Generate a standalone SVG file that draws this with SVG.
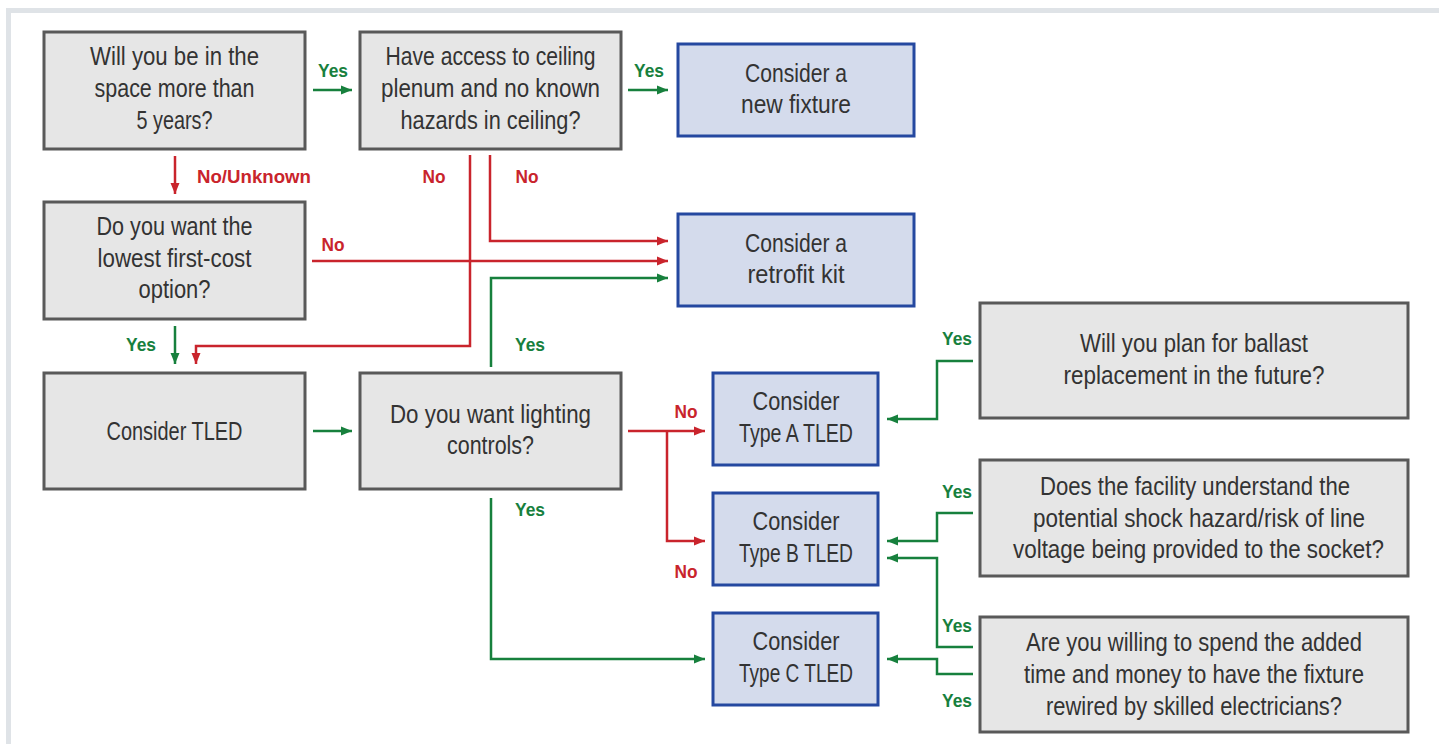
<svg xmlns="http://www.w3.org/2000/svg" width="1439" height="744" viewBox="0 0 1439 744">
<style>
.q{fill:#e6e6e6;stroke:#595959;stroke-width:3}
.a{fill:#d4dbec;stroke:#2548a0;stroke-width:3}
.t{font-family:"Liberation Sans",Arial,sans-serif;font-size:25px;fill:#333;text-anchor:middle}
.l{font-family:"Liberation Sans",Arial,sans-serif;font-size:19px;font-weight:bold;text-anchor:middle}
.g{fill:#17803d}
.r{fill:#c9242c}
.cg{fill:none;stroke:#17803d;stroke-width:2.5}
.cr{fill:none;stroke:#c9242c;stroke-width:2.5}
</style>
<defs>
<marker id="ag" markerUnits="userSpaceOnUse" markerWidth="12" markerHeight="10" refX="11" refY="5" orient="auto"><path d="M0,0.5 L11,5 L0,9.5 z" fill="#17803d"/></marker>
<marker id="ar" markerUnits="userSpaceOnUse" markerWidth="12" markerHeight="10" refX="11" refY="5" orient="auto"><path d="M0,0.5 L11,5 L0,9.5 z" fill="#c9242c"/></marker>
</defs>
<rect width="1439" height="744" fill="#fff"/>
<path d="M8.5,744 V10.5 H1439" fill="none" stroke="#dfe3e7" stroke-width="5"/>

<g id="connectors">
<path class="cg" d="M313,90 H352" marker-end="url(#ag)"/>
<path class="cg" d="M628,90 H668" marker-end="url(#ag)"/>
<path class="cg" d="M175,326 V364" marker-end="url(#ag)"/>
<path class="cg" d="M313,431 H352" marker-end="url(#ag)"/>
<path class="cg" d="M491,367 V278 H668" marker-end="url(#ag)"/>
<path class="cg" d="M491,498 V659 H705" marker-end="url(#ag)"/>
<path class="cg" d="M973,361 H937 V419 H887" marker-end="url(#ag)"/>
<path class="cg" d="M973,513 H937 V541 H887" marker-end="url(#ag)"/>
<path class="cg" d="M973,647 H937 V558 H887" marker-end="url(#ag)"/>
<path class="cg" d="M973,674 H937 V659 H887" marker-end="url(#ag)"/>
<path class="cr" d="M175,156 V194" marker-end="url(#ar)"/>
<path class="cr" d="M470,155 V346 H196 V364" marker-end="url(#ar)"/>
<path class="cr" d="M490,155 V241 H668" marker-end="url(#ar)"/>
<path class="cr" d="M312,261 H668" marker-end="url(#ar)"/>
<path class="cr" d="M628,431 H705" marker-end="url(#ar)"/>
<path class="cr" d="M667,431 V541 H705" marker-end="url(#ar)"/>
<text class="l g" x="333" y="77" textLength="30" lengthAdjust="spacingAndGlyphs">Yes</text>
<text class="l g" x="649" y="77" textLength="30" lengthAdjust="spacingAndGlyphs">Yes</text>
<text class="l r" x="254" y="183" textLength="114" lengthAdjust="spacingAndGlyphs">No/Unknown</text>
<text class="l r" x="434" y="183" textLength="23" lengthAdjust="spacingAndGlyphs">No</text>
<text class="l r" x="527" y="183" textLength="23" lengthAdjust="spacingAndGlyphs">No</text>
<text class="l r" x="333" y="251" textLength="23" lengthAdjust="spacingAndGlyphs">No</text>
<text class="l g" x="141" y="351" textLength="30" lengthAdjust="spacingAndGlyphs">Yes</text>
<text class="l g" x="530" y="351" textLength="30" lengthAdjust="spacingAndGlyphs">Yes</text>
<text class="l r" x="686" y="418" textLength="23" lengthAdjust="spacingAndGlyphs">No</text>
<text class="l r" x="686" y="578" textLength="23" lengthAdjust="spacingAndGlyphs">No</text>
<text class="l g" x="530" y="516" textLength="30" lengthAdjust="spacingAndGlyphs">Yes</text>
<text class="l g" x="957" y="345" textLength="30" lengthAdjust="spacingAndGlyphs">Yes</text>
<text class="l g" x="957" y="498" textLength="30" lengthAdjust="spacingAndGlyphs">Yes</text>
<text class="l g" x="957" y="632" textLength="30" lengthAdjust="spacingAndGlyphs">Yes</text>
<text class="l g" x="957" y="707" textLength="30" lengthAdjust="spacingAndGlyphs">Yes</text>
</g>

<g id="n1"><rect class="q" x="44" y="32" width="261" height="117"/>
<text class="t" x="174.5" y="65" textLength="169" lengthAdjust="spacingAndGlyphs">Will you be in the</text>
<text class="t" x="174.5" y="97" textLength="160" lengthAdjust="spacingAndGlyphs">space more than</text>
<text class="t" x="174.5" y="129" textLength="76" lengthAdjust="spacingAndGlyphs">5 years?</text></g>

<g id="n2"><rect class="q" x="360" y="32" width="261" height="117"/>
<text class="t" x="490.5" y="65" textLength="210" lengthAdjust="spacingAndGlyphs">Have access to ceiling</text>
<text class="t" x="490.5" y="97" textLength="219" lengthAdjust="spacingAndGlyphs">plenum and no known</text>
<text class="t" x="490.5" y="129" textLength="180" lengthAdjust="spacingAndGlyphs">hazards in ceiling?</text></g>

<g id="n3"><rect class="a" x="678" y="44" width="236" height="92"/>
<text class="t" x="796" y="82" textLength="102" lengthAdjust="spacingAndGlyphs">Consider a</text>
<text class="t" x="796" y="113" textLength="110" lengthAdjust="spacingAndGlyphs">new fixture</text></g>

<g id="n4"><rect class="q" x="44" y="202" width="261" height="117"/>
<text class="t" x="174.5" y="235" textLength="156" lengthAdjust="spacingAndGlyphs">Do you want the</text>
<text class="t" x="174.5" y="267" textLength="154" lengthAdjust="spacingAndGlyphs">lowest first-cost</text>
<text class="t" x="174.5" y="298" textLength="72" lengthAdjust="spacingAndGlyphs">option?</text></g>

<g id="n5"><rect class="a" x="678" y="214" width="236" height="92"/>
<text class="t" x="796" y="252" textLength="102" lengthAdjust="spacingAndGlyphs">Consider a</text>
<text class="t" x="796" y="283" textLength="97" lengthAdjust="spacingAndGlyphs">retrofit kit</text></g>

<g id="n6"><rect class="q" x="44" y="373" width="261" height="116"/>
<text class="t" x="174.5" y="440" textLength="136" lengthAdjust="spacingAndGlyphs">Consider TLED</text></g>

<g id="n7"><rect class="q" x="360" y="373" width="261" height="116"/>
<text class="t" x="490.5" y="423" textLength="201" lengthAdjust="spacingAndGlyphs">Do you want lighting</text>
<text class="t" x="490.5" y="454" textLength="87" lengthAdjust="spacingAndGlyphs">controls?</text></g>

<g id="n8"><rect class="a" x="713" y="373" width="165" height="92"/>
<text class="t" x="796" y="410" textLength="87" lengthAdjust="spacingAndGlyphs">Consider</text>
<text class="t" x="796" y="442" textLength="114" lengthAdjust="spacingAndGlyphs">Type A TLED</text></g>

<g id="n9"><rect class="a" x="713" y="493" width="165" height="92"/>
<text class="t" x="796" y="530" textLength="87" lengthAdjust="spacingAndGlyphs">Consider</text>
<text class="t" x="796" y="562" textLength="114" lengthAdjust="spacingAndGlyphs">Type B TLED</text></g>

<g id="n10"><rect class="a" x="713" y="613" width="165" height="92"/>
<text class="t" x="796" y="650" textLength="87" lengthAdjust="spacingAndGlyphs">Consider</text>
<text class="t" x="796" y="682" textLength="114" lengthAdjust="spacingAndGlyphs">Type C TLED</text></g>

<g id="n11"><rect class="q" x="980" y="303" width="428" height="115"/>
<text class="t" x="1194" y="352" textLength="228" lengthAdjust="spacingAndGlyphs">Will you plan for ballast</text>
<text class="t" x="1194" y="384" textLength="261" lengthAdjust="spacingAndGlyphs">replacement in the future?</text></g>

<g id="n12"><rect class="q" x="980" y="460" width="428" height="116"/>
<text class="t" x="1195" y="495" textLength="310" lengthAdjust="spacingAndGlyphs">Does the facility understand the</text>
<text class="t" x="1199" y="527" textLength="332" lengthAdjust="spacingAndGlyphs">potential shock hazard/risk of line</text>
<text class="t" x="1198.5" y="558" textLength="371" lengthAdjust="spacingAndGlyphs">voltage being provided to the socket?</text></g>

<g id="n13"><rect class="q" x="980" y="617" width="428" height="115"/>
<text class="t" x="1194" y="651" textLength="336" lengthAdjust="spacingAndGlyphs">Are you willing to spend the added</text>
<text class="t" x="1194" y="683" textLength="340" lengthAdjust="spacingAndGlyphs">time and money to have the fixture</text>
<text class="t" x="1194" y="715" textLength="296" lengthAdjust="spacingAndGlyphs">rewired by skilled electricians?</text></g>
</svg>
